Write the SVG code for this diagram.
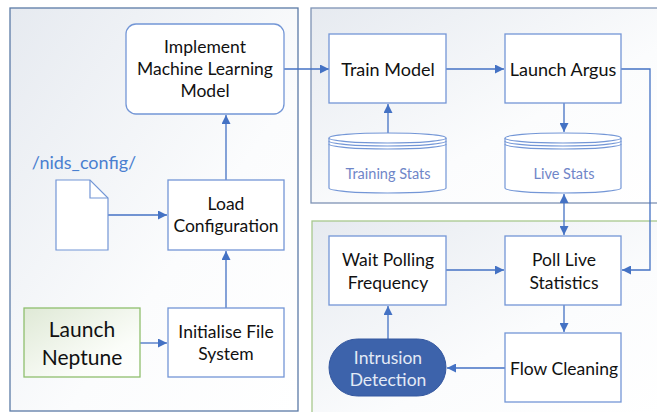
<svg xmlns="http://www.w3.org/2000/svg" width="657" height="412" viewBox="0 0 657 412">
<defs>
<linearGradient id="cg" x1="0" y1="0" x2="1" y2="1">
<stop offset="0" stop-color="#e6eaf0"/>
<stop offset="0.6" stop-color="#fbfcfd"/>
<stop offset="1" stop-color="#ffffff"/>
</linearGradient>
<linearGradient id="gg" x1="0" y1="0" x2="1" y2="1">
<stop offset="0" stop-color="#dfe9d6"/>
<stop offset="0.7" stop-color="#fbfdf9"/>
<stop offset="1" stop-color="#ffffff"/>
</linearGradient>
<marker id="ah" viewBox="0 0 10 10" refX="10" refY="5" markerWidth="9" markerHeight="9" markerUnits="userSpaceOnUse" orient="auto-start-reverse">
<path d="M0,0 L10,5 L0,10 z" fill="#4472c4"/>
</marker>
<style>
.box{fill:#ffffff;stroke:#7396d6;stroke-width:1.3}
.t{font-family:Lato,"Liberation Sans",sans-serif;font-size:17.5px;fill:#111111;text-anchor:middle;dominant-baseline:central}
.c{fill:none;stroke:#4472c4;stroke-width:1.3}
.cyl{fill:#ffffff;stroke:#7396d6;stroke-width:1.2}
.ct{font-family:Lato,"Liberation Sans",sans-serif;font-size:14.5px;fill:#6f86c8;text-anchor:middle;dominant-baseline:central}
</style>
</defs>
<g id="containers">
<rect x="10" y="8" width="288" height="403" fill="url(#cg)" stroke="#5b7aa6" stroke-width="1.3"/>
<rect x="311" y="8" width="350" height="195" fill="url(#cg)" stroke="#7e93b4" stroke-width="1.3"/>
<rect x="312" y="221" width="350" height="195" fill="url(#cg)" stroke="#a8c88e" stroke-width="1.3"/>
</g>
<g id="connectors">
<path class="c" d="M284,69 H329" marker-end="url(#ah)"/>
<path class="c" d="M446,69 H504" marker-end="url(#ah)"/>
<path class="c" d="M388,133 V104" marker-end="url(#ah)"/>
<path class="c" d="M564,103 V132" marker-end="url(#ah)"/>
<path class="c" d="M621,69 H650 V270 H622" marker-end="url(#ah)"/>
<path class="c" d="M564,194 V235" marker-start="url(#ah)" marker-end="url(#ah)"/>
<path class="c" d="M446,270 H504" marker-end="url(#ah)"/>
<path class="c" d="M564,305 V332" marker-end="url(#ah)"/>
<path class="c" d="M505,368 H447" marker-end="url(#ah)"/>
<path class="c" d="M388,339 V306" marker-end="url(#ah)"/>
<path class="c" d="M108,215 H167" marker-end="url(#ah)"/>
<path class="c" d="M140,343 H167" marker-end="url(#ah)"/>
<path class="c" d="M226,308 V251" marker-end="url(#ah)"/>
<path class="c" d="M226,180 V115" marker-end="url(#ah)"/>
</g>
<g id="implement">
<rect class="box" x="126" y="24" width="158" height="90" rx="10"/>
<text class="t" x="205" y="46">Implement</text>
<text class="t" x="205" y="68">Machine Learning</text>
<text class="t" x="205" y="90">Model</text>
</g>
<g id="nids_config">
<text x="84" y="162" font-family="Lato,'Liberation Sans',sans-serif" font-size="18" fill="#4a7fd0" text-anchor="middle" dominant-baseline="central">/nids_config/</text>
<path d="M56,180 H90 L108,198 V250 H56 Z" fill="#ffffff" stroke="#7396d6" stroke-width="1.2"/>
<path d="M90,180 V198 H108" fill="none" stroke="#7396d6" stroke-width="1.2"/>
</g>
<g id="load">
<rect class="box" x="168" y="180" width="116" height="70"/>
<text class="t" x="226" y="203">Load</text>
<text class="t" x="226" y="225">Configuration</text>
</g>
<g id="init">
<rect class="box" x="168" y="308" width="116" height="69"/>
<text class="t" x="226" y="331">Initialise File</text>
<text class="t" x="226" y="353">System</text>
</g>
<g id="neptune">
<rect x="24" y="308" width="116" height="69" fill="url(#gg)" stroke="#8fbf6e" stroke-width="1.3"/>
<text class="t" x="82" y="328" style="font-size:21px">Launch</text>
<text class="t" x="82" y="356" style="font-size:21px">Neptune</text>
</g>
<g id="train">
<rect class="box" x="329" y="34" width="117" height="69"/>
<text class="t" x="388" y="69" style="font-size:18px">Train Model</text>
</g>
<g id="argus">
<rect class="box" x="505" y="34" width="116" height="69"/>
<text class="t" x="563" y="69" style="font-size:18px">Launch Argus</text>
</g>
<g id="training_stats">
<path class="cyl" d="M329,138 A58.5,5 0 0 1 446,138 V188 A58.5,5 0 0 1 329,188 Z"/>
<path class="cyl" fill="none" d="M329,138 A58.5,5 0 0 0 446,138 M329,141 A58.5,5 0 0 0 446,141 M329,144 A58.5,5 0 0 0 446,144"/>
<text class="ct" x="388" y="173">Training Stats</text>
</g>
<g id="live_stats">
<path class="cyl" d="M505,138 A58,5 0 0 1 621,138 V188 A58,5 0 0 1 505,188 Z"/>
<path class="cyl" fill="none" d="M505,138 A58,5 0 0 0 621,138 M505,141 A58,5 0 0 0 621,141 M505,144 A58,5 0 0 0 621,144"/>
<text class="ct" x="564" y="173">Live Stats</text>
</g>
<g id="wait">
<rect class="box" x="329" y="236" width="117" height="69"/>
<text class="t" x="388" y="259">Wait Polling</text>
<text class="t" x="388" y="282">Frequency</text>
</g>
<g id="poll">
<rect class="box" x="505" y="236" width="116" height="69"/>
<text class="t" x="564" y="259">Poll Live</text>
<text class="t" x="564" y="282">Statistics</text>
</g>
<g id="flow">
<rect class="box" x="505" y="333" width="116" height="69"/>
<text class="t" x="564" y="368">Flow Cleaning</text>
</g>
<g id="intrusion">
<rect x="329" y="339" width="117" height="57" rx="28.5" fill="#3d63ab" stroke="#3558a0" stroke-width="1"/>
<text class="t" x="388" y="357" style="fill:#e3eaf6">Intrusion</text>
<text class="t" x="388" y="379" style="fill:#e3eaf6">Detection</text>
</g>
</svg>
